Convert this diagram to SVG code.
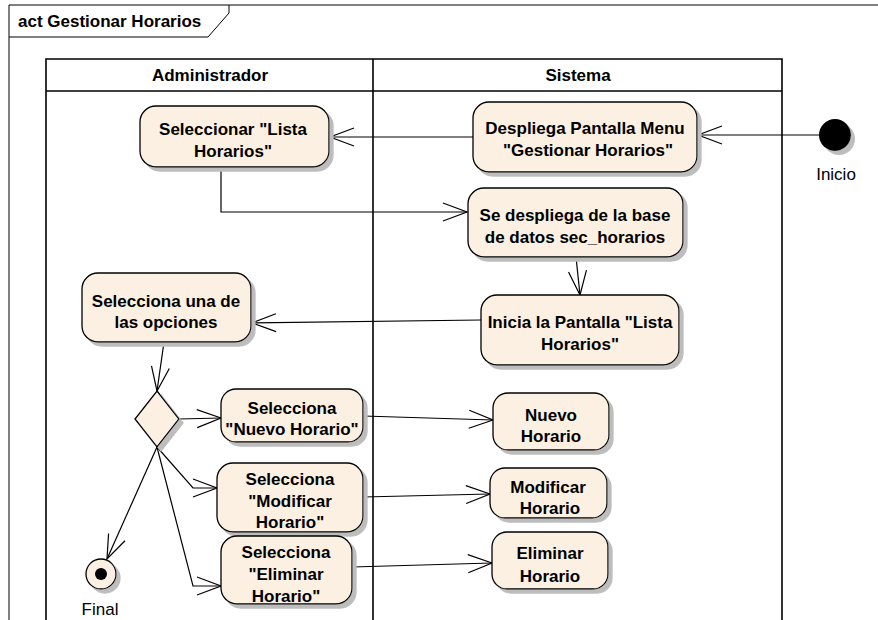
<svg xmlns="http://www.w3.org/2000/svg" width="878" height="620" viewBox="0 0 878 620">
<style>
.frame{fill:none;stroke:#000;stroke-width:1}
.lane{fill:none;stroke:#000;stroke-width:1.6}
.node{fill:#FBF0E1;stroke:#000;stroke-width:1.3}
.t{font-family:"Liberation Sans",Arial,sans-serif;font-size:17px;font-weight:bold;fill:#000;text-anchor:middle}
.tl{font-family:"Liberation Sans",Arial,sans-serif;font-size:17px;fill:#000;text-anchor:middle}
.c{fill:none;stroke:#000;stroke-width:1.2}
</style>
<defs>
<filter id="sh" x="-10%" y="-10%" width="130%" height="140%">
<feDropShadow dx="4" dy="4" stdDeviation="0.6" flood-color="#BDBDBD" flood-opacity="1"/>
</filter>
<marker id="arr" viewBox="0 0 28 22" markerWidth="28" markerHeight="22" refX="26" refY="11" markerUnits="userSpaceOnUse" orient="auto">
<path d="M2,2 L26,11 L2,20" fill="none" stroke="#000" stroke-width="1.2"/>
</marker>
</defs>
<rect width="878" height="620" fill="#fff"/>
<g id="frame">
<path class="frame" d="M9,620 L9,5 L880,5"/>
<path class="frame" d="M9,37 L208,37 L229,13 L229,5"/>
<text x="18" y="27" class="t" style="text-anchor:start">act Gestionar Horarios</text>
</g>
<g id="swimlanes">
<path class="lane" d="M46,622 L46,59 L782,59 L782,622"/>
<line class="lane" x1="46" y1="91" x2="782" y2="91"/>
<line class="lane" x1="373" y1="59" x2="373" y2="622"/>
<text x="210" y="81" class="t">Administrador</text>
<text x="578" y="81" class="t">Sistema</text>
</g>
<g id="connectors">
<line class="c" x1="819" y1="135" x2="698" y2="135" marker-end="url(#arr)"/>
<line class="c" x1="473" y1="137" x2="330" y2="137" marker-end="url(#arr)"/>
<polyline class="c" points="221,167 221,212 467,212" marker-end="url(#arr)"/>
<line class="c" x1="576" y1="257" x2="580" y2="295" marker-end="url(#arr)"/>
<line class="c" x1="481" y1="320" x2="252" y2="323" marker-end="url(#arr)"/>
<line class="c" x1="164" y1="342" x2="157" y2="391" marker-end="url(#arr)"/>
<line class="c" x1="179" y1="419" x2="221" y2="418" marker-end="url(#arr)"/>
<polyline class="c" points="157,447 193,488 217,488" marker-end="url(#arr)"/>
<polyline class="c" points="157,447 193,586 221,586" marker-end="url(#arr)"/>
<line class="c" x1="157" y1="447" x2="107" y2="559" marker-end="url(#arr)"/>
<line class="c" x1="363" y1="416" x2="493" y2="420" marker-end="url(#arr)"/>
<line class="c" x1="363" y1="497" x2="490" y2="494" marker-end="url(#arr)"/>
<line class="c" x1="352" y1="567" x2="492" y2="563" marker-end="url(#arr)"/>
</g>
<g id="inicio">
<circle cx="835" cy="135" r="16" fill="#000" filter="url(#sh)"/>
<text x="836" y="180" class="tl">Inicio</text>
</g>
<g id="despliega-menu">
<rect class="node" x="473" y="102" width="224" height="70" rx="16" filter="url(#sh)"/>
<text class="t" x="585" y="134">Despliega Pantalla Menu</text>
<text class="t" x="588" y="156">"Gestionar Horarios"</text>
</g>
<g id="seleccionar-lista">
<rect class="node" x="140" y="106" width="189" height="61" rx="16" filter="url(#sh)"/>
<text class="t" x="233" y="135">Seleccionar "Lista</text>
<text class="t" x="233" y="157">Horarios"</text>
</g>
<g id="se-despliega">
<rect class="node" x="468" y="188" width="215" height="69" rx="16" filter="url(#sh)"/>
<text class="t" x="575" y="221">Se despliega de la base</text>
<text class="t" x="575" y="243">de datos  sec_horarios</text>
</g>
<g id="inicia-pantalla">
<rect class="node" x="481" y="295" width="198" height="70" rx="16" filter="url(#sh)"/>
<text class="t" x="580" y="328">Inicia la Pantalla "Lista</text>
<text class="t" x="580" y="350">Horarios"</text>
</g>
<g id="selecciona-opciones">
<rect class="node" x="82" y="273" width="169" height="69" rx="16" filter="url(#sh)"/>
<text class="t" x="166" y="307">Selecciona una de</text>
<text class="t" x="166" y="328">las opciones</text>
</g>
<g id="decision">
<polygon class="node" points="157,391 179,419 157,447 135,419" filter="url(#sh)"/>
</g>
<g id="sel-nuevo">
<rect class="node" x="221" y="389" width="142" height="53" rx="15" filter="url(#sh)"/>
<text class="t" x="292" y="414">Selecciona</text>
<text class="t" x="292" y="435">"Nuevo Horario"</text>
</g>
<g id="sel-modificar">
<rect class="node" x="217" y="463" width="146" height="69" rx="16" filter="url(#sh)"/>
<text class="t" x="290" y="485">Selecciona</text>
<text class="t" x="290" y="507">"Modificar</text>
<text class="t" x="290" y="528">Horario"</text>
</g>
<g id="sel-eliminar">
<rect class="node" x="221" y="536" width="131" height="68" rx="16" filter="url(#sh)"/>
<text class="t" x="286" y="558">Selecciona</text>
<text class="t" x="286" y="580">"Eliminar</text>
<text class="t" x="286" y="602">Horario"</text>
</g>
<g id="final">
<circle class="node" cx="101" cy="574" r="15" filter="url(#sh)"/>
<circle cx="101" cy="574" r="6" fill="#000"/>
<text x="100" y="615" class="tl">Final</text>
</g>
<g id="nuevo-horario">
<rect class="node" x="493" y="393" width="116" height="57" rx="15" filter="url(#sh)"/>
<text class="t" x="551" y="421">Nuevo</text>
<text class="t" x="551" y="442">Horario</text>
</g>
<g id="modificar-horario">
<rect class="node" x="490" y="468" width="117" height="50" rx="15" filter="url(#sh)"/>
<text class="t" x="548" y="493">Modificar</text>
<text class="t" x="550" y="514">Horario</text>
</g>
<g id="eliminar-horario">
<rect class="node" x="492" y="532" width="116" height="57" rx="15" filter="url(#sh)"/>
<text class="t" x="550" y="559">Eliminar</text>
<text class="t" x="550" y="582">Horario</text>
</g>
</svg>
